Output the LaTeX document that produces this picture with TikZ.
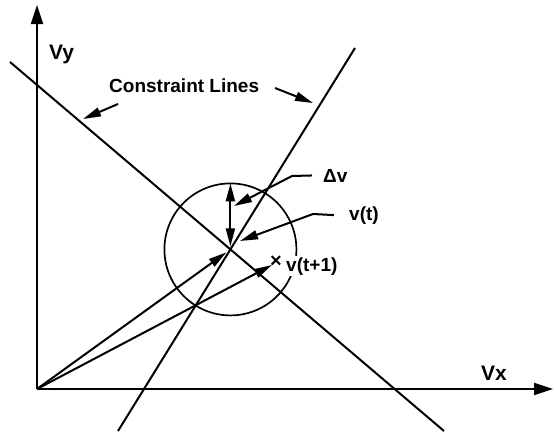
\documentclass[tikz,border=0pt]{standalone}
\usepackage{fontspec}
\setmainfont{Liberation Sans}
\usetikzlibrary{arrows.meta,calc}
\begin{document}
\begin{tikzpicture}[x=1pt,y=-1pt,
  ln/.style={line width=2pt},
  axis/.style={ln,-{Triangle[length=19pt,width=12pt]}},
  vec/.style={ln,-{Triangle[length=18pt,width=9pt]}},
  lbl/.style={font=\fontsize{19}{23}\selectfont\bfseries, inner sep=0pt, anchor=base west},
  axlbl/.style={font=\fontsize{21}{25}\selectfont\bfseries, inner sep=0pt, anchor=base west}]
\useasboundingbox (0,0) rectangle (554,431);
% axes
\coordinate (O) at (37,389);
\coordinate (Ytop) at (37,5);
\coordinate (Xend) at (553,389);
\draw[axis] (O) -- (Ytop);
\draw[axis] (O) -- (Xend);
\node[axlbl] (vy) at (49,59) {Vy};
\node[axlbl] (vx) at (481,380) {Vx};
% constraint lines
\coordinate (A1) at (10,62);
\coordinate (A2) at (444,431);
\coordinate (B1) at (118,431);
\coordinate (B2) at (355,48);
\draw[ln] (A1) -- (A2);
\draw[ln] (B1) -- (B2);
\coordinate (P) at (intersection of A1--A2 and B1--B2);
% circle
\draw[line width=1.7pt] (P) circle[radius=66];
\coordinate (T) at ($(P)+(0,-66)$);
% velocity vectors
\draw[vec, shorten >=5pt] (O) -- (P);
\coordinate (N) at (272,265);
\draw[vec] (O) -- (N);
\node[font=\fontsize{20}{22}\selectfont\bfseries, inner sep=0pt] (xm) at (276,262) {×};
\node[lbl, fill=white, inner sep=1pt] (vt1) at (285,271) {v(t+1)};
% delta v
\draw[ln,{Triangle[length=18pt,width=9pt]}-{Triangle[length=18pt,width=9pt]}, shorten <=3pt] (P) -- (T);
% labels with leaders
\node[lbl] (dv) at (323,182) {Δv};
\coordinate (dvk) at (292,176);
\coordinate (dvt) at (234,206);
\draw[vec] ([xshift=-11pt]dv.west) -- (dvk) -- (dvt);
\node[lbl] (vt) at (349,220) {v(t)};
\coordinate (vtk) at (313,214);
\coordinate (vtt) at (240,241);
\draw[vec] ([xshift=-15pt]vt.west) -- (vtk) -- (vtt);
\node[lbl] (cl) at (109,92) {Constraint Lines};
\coordinate (cl1) at (118,104);
\coordinate (cl1t) at (83,119);
\coordinate (cl2) at (275,88);
\coordinate (cl2t) at (313,103);
\draw[vec] (cl1) -- (cl1t);
\draw[vec] (cl2) -- (cl2t);
\end{tikzpicture}
\end{document}
